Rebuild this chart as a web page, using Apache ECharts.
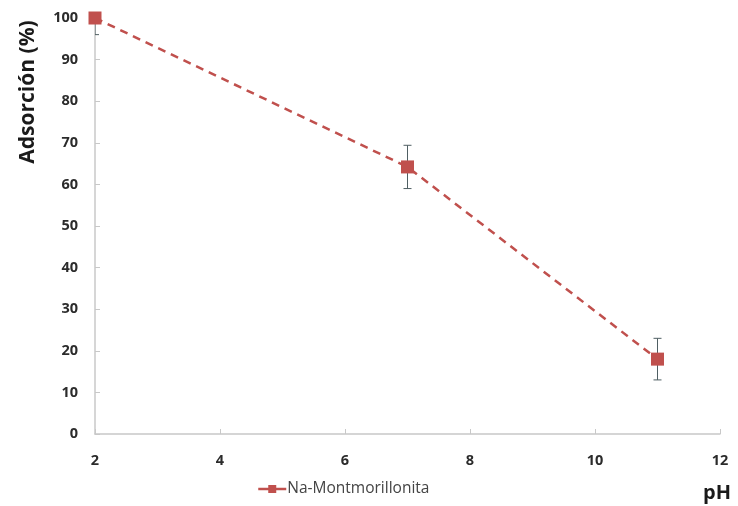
<!DOCTYPE html>
<html>
<head>
<meta charset="utf-8">
<script src="https://cdn.jsdelivr.net/npm/echarts@6/dist/echarts.min.js"></script>
<style>
  html, body { margin: 0; padding: 0; background: #fff; }
  #chart { width: 738px; height: 506px; }
</style>
</head>
<body>
<div id="chart"></div>
<script>
// Adsorption versus pH for Na-Montmorillonite
const seriesName = 'Na-Montmorillonita';
const phValues = [2, 7, 11];
const adsorption = [100, 64.2, 18];
const errorValues = [4, 5.2, 5];

const points = phValues.map((p, i) => [p, adsorption[i]]);
const errorData = phValues.map((p, i) => [p, adsorption[i] - errorValues[i], adsorption[i] + errorValues[i]]);

const labelStyle = { color: '#2b2b2b', fontWeight: 'bold', fontSize: 14.5, fontFamily: 'Open Sans, sans-serif' };

const chart = echarts.init(document.getElementById('chart'));
chart.setOption({
  animation: false,
  backgroundColor: '#fff',
  grid: { left: 95, right: 18, top: 18, bottom: 72 },
  xAxis: {
    type: 'value', min: 2, max: 12, interval: 2,
    axisLine: { show: true, lineStyle: { color: '#c8c8c8', width: 1.5 } },
    axisTick: { show: true, inside: true, length: 5, lineStyle: { color: '#c8c8c8' } },
    splitLine: { show: false },
    axisLabel: Object.assign({ margin: 19 }, labelStyle)
  },
  yAxis: {
    type: 'value', min: 0, max: 100, interval: 10,
    axisLine: { show: true, lineStyle: { color: '#c8c8c8', width: 1.5 } },
    axisTick: { show: true, inside: true, length: 5, lineStyle: { color: '#c8c8c8' } },
    splitLine: { show: false },
    axisLabel: Object.assign({ margin: 17 }, labelStyle)
  },
  graphic: [
    {
      type: 'text', x: 28, y: 92, rotation: Math.PI / 2,
      style: { text: 'Adsorción (%)', fill: '#1a1a1a', font: 'bold 21px "Open Sans", sans-serif', textAlign: 'center', textVerticalAlign: 'middle' }
    },
    {
      type: 'text', x: 717, y: 493,
      style: { text: 'pH', fill: '#1a1a1a', font: 'bold 20px "Open Sans", sans-serif', textAlign: 'center', textVerticalAlign: 'middle' }
    }
  ],
  legend: {
    top: 476, left: 252,
    itemWidth: 28, itemHeight: 10, itemGap: 4,
    data: [{ name: seriesName, lineStyle: { type: 'solid', width: 2.5 } }],
    textStyle: { color: '#444', fontSize: 15.5, fontFamily: 'Open Sans, sans-serif', padding: [0, 0, 0, -4] }
  },
  series: [
    {
      name: seriesName,
      type: 'line',
      data: points,
      symbol: 'rect',
      symbolSize: 13,
      itemStyle: { color: '#c0504d' },
      lineStyle: { color: '#c0504d', width: 2.5, type: [8, 6] },
      z: 3
    },
    {
      type: 'custom',
      data: errorData,
      z: 2,
      renderItem: function (params, api) {
        const x = api.value(0);
        const lo = api.coord([x, api.value(1)]);
        const hi = api.coord([x, api.value(2)]);
        const cap = 4;
        const style = { stroke: '#4f5f63', lineWidth: 1 };
        return {
          type: 'group',
          children: [
            { type: 'line', shape: { x1: lo[0], y1: lo[1], x2: hi[0], y2: hi[1] }, style: style },
            { type: 'line', shape: { x1: lo[0] - cap, y1: lo[1], x2: lo[0] + cap, y2: lo[1] }, style: style },
            { type: 'line', shape: { x1: hi[0] - cap, y1: hi[1], x2: hi[0] + cap, y2: hi[1] }, style: style }
          ]
        };
      },
      clip: true,
      silent: true
    }
  ]
});
</script>
</body>
</html>
